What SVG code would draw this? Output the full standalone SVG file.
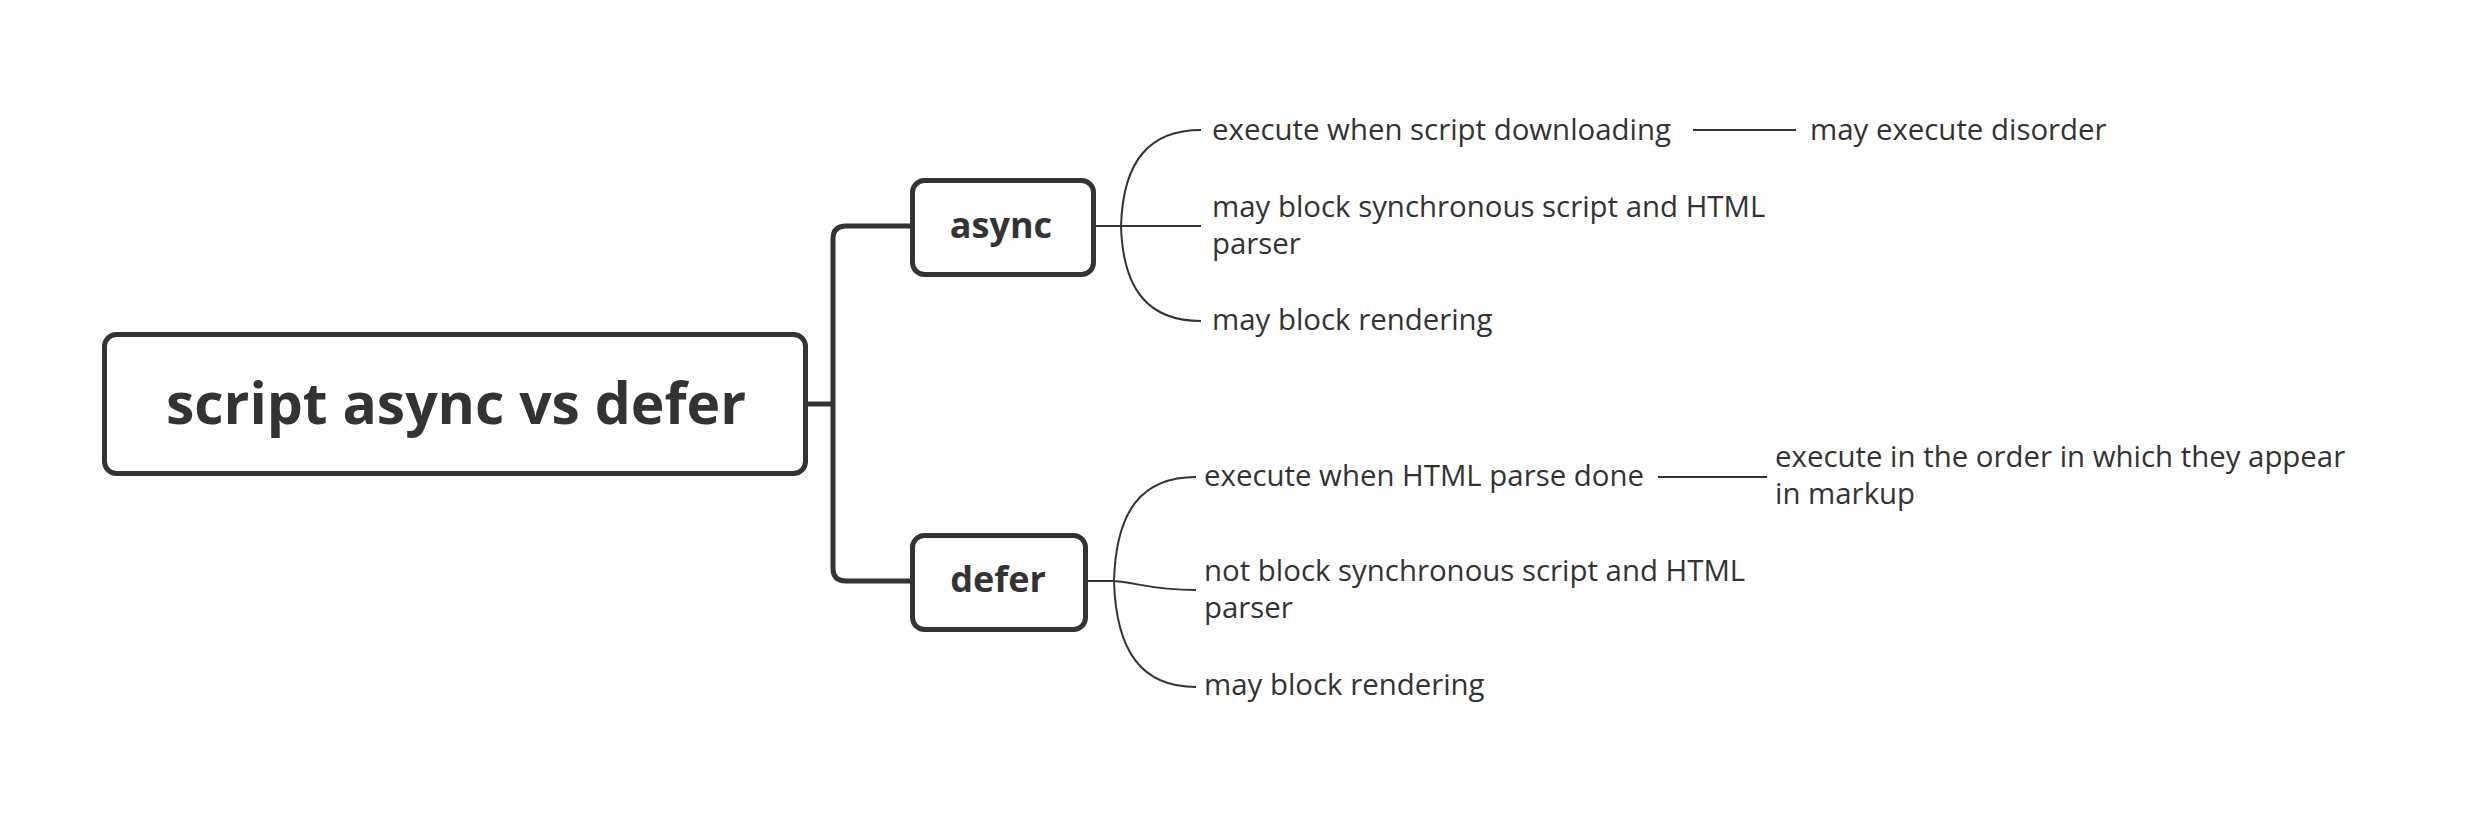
<svg xmlns="http://www.w3.org/2000/svg" width="2470" height="816" viewBox="0 0 2470 816">
<style>
.box{fill:#fff;stroke:#333;stroke-width:5}
.thick{fill:none;stroke:#333;stroke-width:5;stroke-linejoin:round}
.thin{fill:none;stroke:#333;stroke-width:2}
.t{font-family:"Open Sans","Liberation Sans",sans-serif;font-size:29.4px;fill:#333}
.b{font-family:"Open Sans","Liberation Sans",sans-serif;font-weight:bold;fill:#333;text-anchor:middle}
</style>
<rect width="2470" height="816" fill="#fff"/>
<g id="connectors">
<path class="thick" d="M808,404 H833 M910,226 H846 Q833,226 833,239 V568 Q833,581 846,581 H910"/>
<path class="thin" d="M1096,226 H1201 M1121,226 C1123,160 1150,130 1201,130 M1121,226 C1123,292 1150,321 1201,321"/>
<path class="thin" d="M1088,581 H1114 C1140,583 1150,590 1196,590 M1114,581 C1116,510 1142,477 1196,477 M1114,581 C1116,652 1142,687 1196,687"/>
<path class="thin" d="M1693,130 H1796 M1658,477 H1767"/>
</g>
<g id="root">
<rect class="box" x="104.5" y="334.5" width="701" height="139" rx="12"/>
<text class="b" x="456" y="424" font-size="57">script async vs defer</text>
</g>
<g id="async">
<rect class="box" x="912.5" y="180.5" width="181" height="94" rx="12"/>
<text class="b" x="1001" y="238" font-size="36">async</text>
</g>
<g id="defer">
<rect class="box" x="912.5" y="535.5" width="173" height="94" rx="12"/>
<text class="b" x="998" y="592" font-size="36">defer</text>
</g>
<g id="async-1"><text class="t" x="1212" y="140">execute when script downloading</text></g>
<g id="async-1-1"><text class="t" x="1810" y="140">may execute disorder</text></g>
<g id="async-2"><text class="t" x="1212" y="217">may block synchronous script and HTML</text><text class="t" x="1212" y="254">parser</text></g>
<g id="async-3"><text class="t" x="1212" y="330">may block rendering</text></g>
<g id="defer-1"><text class="t" x="1204" y="486">execute when HTML parse done</text></g>
<g id="defer-1-1"><text class="t" x="1775" y="467">execute in the order in which they appear</text><text class="t" x="1775" y="504">in markup</text></g>
<g id="defer-2"><text class="t" x="1204" y="581">not block synchronous script and HTML</text><text class="t" x="1204" y="618">parser</text></g>
<g id="defer-3"><text class="t" x="1204" y="695">may block rendering</text></g>
</svg>
